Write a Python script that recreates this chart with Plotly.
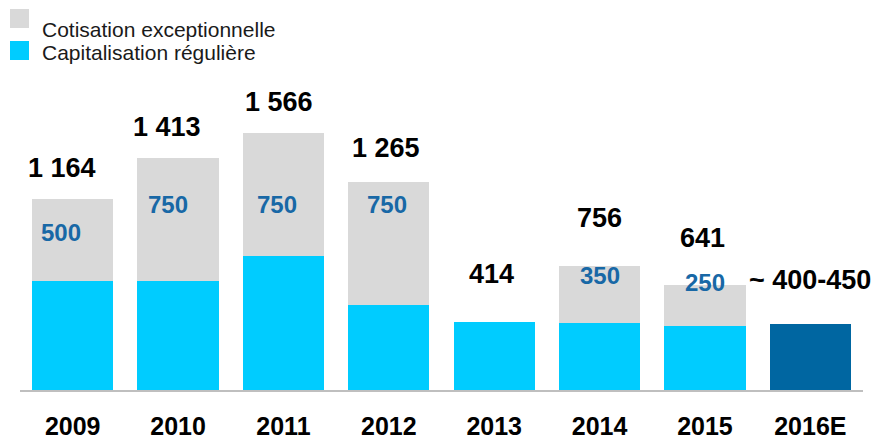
import plotly.graph_objects as go

# ---- data ----
years = ["2009", "2010", "2011", "2012", "2013", "2014", "2015", "2016E"]
regular = [664, 663, 816, 515, 414, 406, 391, 400]
exceptional = [500, 750, 750, 750, 0, 350, 250, 0]
total_labels = ["1 164", "1 413", "1 566", "1 265", "414", "756", "641", "~ 400-450"]
exc_labels = ["500", "750", "750", "750", "", "350", "250", ""]
legend_names = ["Cotisation exceptionnelle", "Capitalisation régulière"]

# ---- styles ----
C_GRAY = "#D9D9D9"
C_CYAN = "#00CCFF"
C_DARK = "#0066A1"
C_LBL = "#1868A6"
FONT = "Arial, Liberation Sans, sans-serif"

reg_colors = [C_CYAN] * 7 + [C_DARK]
totals = [r + e for r, e in zip(regular, exceptional)]

# label pixel offsets (style)
tot_dy = [31, 31.5, 30.5, 34, 48.5, 48, 46.5, 44]
tot_dx = [-11, -11, -4, -3, -3, 0, -2, 0]
exc_dy = [-33.5, -46.5, -72, -22, 0, -10, 2, 0]
exc_dx = [-12, -10, -6, -2, 0, 0, 0, 0]

fig = go.Figure()
fig.add_trace(go.Bar(x=years, y=regular, name=legend_names[1],
                     marker=dict(color=reg_colors, line=dict(width=0)),
                     showlegend=False, hoverinfo="skip"))
fig.add_trace(go.Bar(x=years, y=exceptional, name=legend_names[0],
                     marker=dict(color=C_GRAY, line=dict(width=0)),
                     showlegend=False, hoverinfo="skip"))

ann = []
for i in range(len(years)):
    ann.append(dict(x=i, y=totals[i], xref="x", yref="y", text=total_labels[i],
                    showarrow=False, xanchor="center", yanchor="middle",
                    yshift=tot_dy[i], xshift=tot_dx[i],
                    font=dict(family=FONT, size=27, color="#000000", weight="bold")))
    if exc_labels[i]:
        ann.append(dict(x=i, y=totals[i], xref="x", yref="y", text=exc_labels[i],
                        showarrow=False, xanchor="center", yanchor="middle",
                        yshift=exc_dy[i], xshift=exc_dx[i],
                        font=dict(family=FONT, size=24, color=C_LBL, weight="bold")))

# manual legend (paper coords: plot area x 20..863, y 60..390 on screen)
W, H = 843.0, 330.0
def px(x):
    return (x - 20) / W
def py(y):
    return (390 - y) / H

shapes = [
    dict(type="rect", xref="paper", yref="paper", x0=px(10), x1=px(29), y0=py(28), y1=py(9),
         fillcolor=C_GRAY, line=dict(width=0)),
    dict(type="rect", xref="paper", yref="paper", x0=px(10), x1=px(29), y0=py(60), y1=py(41),
         fillcolor=C_CYAN, line=dict(width=0)),
]
ann.append(dict(x=px(40), y=py(29.5), xref="paper", yref="paper", text=legend_names[0],
                showarrow=False, xanchor="left", yanchor="middle",
                font=dict(family=FONT, size=21, color="#1a1a1a")))
ann.append(dict(x=px(40), y=py(52.5), xref="paper", yref="paper", text=legend_names[1],
                showarrow=False, xanchor="left", yanchor="middle",
                font=dict(family=FONT, size=21, color="#1a1a1a")))

# page body has an 8px margin: shift margins to compensate
fig.update_layout(
    width=882, height=439,
    margin=dict(l=12, r=27, t=52, b=57, autoexpand=False),
    barmode="stack", bargap=0.23,
    plot_bgcolor="white", paper_bgcolor="white",
    annotations=ann, shapes=shapes,
    xaxis=dict(type="category", range=[-0.5, 7.5], showline=True, linecolor="#BFBFBF",
               linewidth=2, ticks="", showgrid=False, zeroline=False, ticklabelstandoff=13,
               tickfont=dict(family=FONT, size=25, color="#000000", weight="bold")),
    yaxis=dict(visible=False, range=[0, 2010], showgrid=False, zeroline=False),
)

fig.write_html("out.html")
